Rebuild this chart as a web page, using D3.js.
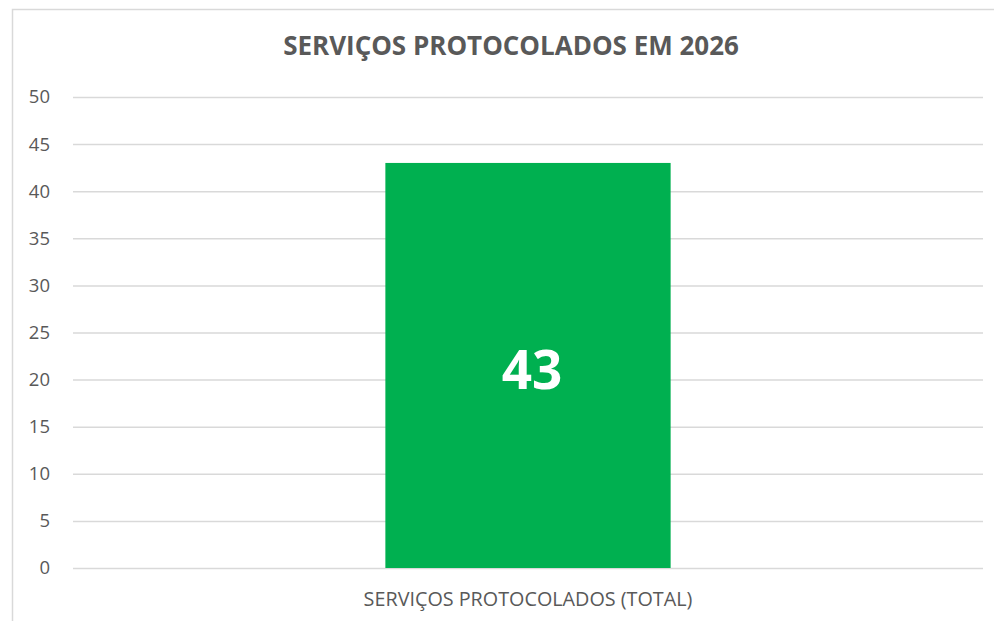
<!DOCTYPE html>
<html><head><meta charset="utf-8">
<script src="https://cdn.jsdelivr.net/npm/d3@7"></script>
<style>html,body{margin:0;padding:0;background:#fff;overflow:hidden}</style>
</head><body>
<svg id="c" width="994" height="621"></svg>
<script>
const title = "SERVIÇOS PROTOCOLADOS EM 2026";
const categories = ["SERVIÇOS PROTOCOLADOS (TOTAL)"];
const values = [43];
const yTicks = [0, 5, 10, 15, 20, 25, 30, 35, 40, 45, 50];

(function () {
const svg = d3.select("#c");
const font = "'Open Sans', sans-serif";
const grey = "#595959";

// chart border
svg.append("rect").attr("x", 12.5).attr("y", 9.5).attr("width", 1000).attr("height", 640)
  .attr("fill", "#fff").attr("stroke", "#d9d9d9").attr("stroke-width", 1.5);

const pl = 73, pr = 983, pt = 97, pb = 568;
const y = d3.scaleLinear().domain([0, 50]).range([pb, pt]);
const p = 2.19 / 4.19;
const x = d3.scaleBand().domain(categories).range([pl, pr]).paddingInner(p).paddingOuter(p);

// gridlines
const yAxis = d3.axisLeft(y).tickValues(yTicks).tickSize(-(pr - pl)).tickPadding(23);
const g = svg.append("g").attr("transform", `translate(${pl},0)`).call(yAxis);
g.select(".domain").remove();
g.selectAll(".tick line").attr("stroke", "#d9d9d9").attr("stroke-width", 1.5);
g.selectAll(".tick text").attr("fill", grey).attr("font-family", font).attr("font-size", 18.5);

// bars
svg.selectAll(".bar").data(values).enter().append("rect")
  .attr("x", (d, i) => x(categories[i]))
  .attr("y", d => y(d))
  .attr("width", x.bandwidth())
  .attr("height", d => y(0) - y(d))
  .attr("fill", "#00B050");

// data labels
svg.selectAll(".lbl").data(values).enter().append("text")
  .attr("x", (d, i) => x(categories[i]) + x.bandwidth() / 2 + 4)
  .attr("y", d => (y(d) + y(0)) / 2 + 24)
  .attr("text-anchor", "middle").attr("fill", "#fff")
  .attr("font-family", font).attr("font-weight", "bold").attr("font-size", 53)
  .text(d => d);

// x axis
const xAxis = d3.axisBottom(x).tickSize(0).tickPadding(24);
const gx = svg.append("g").attr("transform", `translate(0,${pb})`).call(xAxis);
gx.select(".domain").remove();
gx.selectAll(".tick text").attr("fill", grey).attr("font-family", font).attr("font-size", 18);

// title
const t = svg.append("text").attr("x", 511).attr("y", 55).attr("text-anchor", "middle")
  .attr("fill", grey).attr("font-family", font).attr("font-weight", "bold").attr("font-size", 25)
  .text(title);
const w = t.node().getComputedTextLength();
t.attr("font-size", 25 * 456 / w);

// fit x label width
gx.selectAll(".tick text").each(function () {
  const tw = this.getComputedTextLength();
  d3.select(this).attr("font-size", 18 * 329 / tw);
});
})();
</script>
</body></html>
